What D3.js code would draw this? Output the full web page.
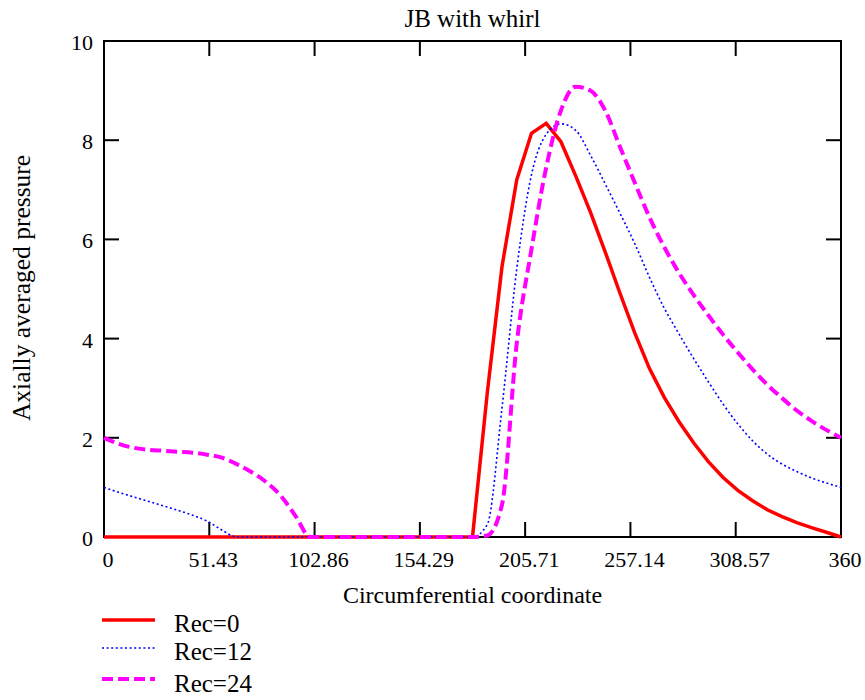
<!DOCTYPE html>
<html>
<head>
<meta charset="utf-8">
<script src="https://cdn.jsdelivr.net/npm/d3@7"></script>
<style>
    body { margin: 0; background: #fff; }
    text { font-family: "Liberation Serif", "Times New Roman", serif; fill: #000; }
</style>
</head>
<body>
<svg></svg>
<script>
// circumferential positions (degrees), one sample every 7.2
var xs = [0, 7.2, 14.4, 21.6, 28.8, 36, 43.2, 50.4, 57.6, 64.8,
    72, 79.2, 86.4, 93.6, 100.8, 108, 115.2, 122.4, 129.6, 136.8,
    144, 151.2, 158.4, 165.6, 172.8, 180, 187.2, 194.4, 201.6, 208.8,
    216, 223.2, 230.4, 237.6, 244.8, 252, 259.2, 266.4, 273.6, 280.8,
    288, 295.2, 302.4, 309.6, 316.8, 324, 331.2, 338.4, 345.6, 352.8,
    360];

var rec0 = [0, 0, 0, 0, 0, 0, 0, 0, 0, 0,
    0, 0, 0, 0, 0, 0, 0, 0, 0, 0,
    0, 0, 0, 0, 0, 0, 2.9, 5.45, 7.2, 8.14,
    8.34, 7.97, 7.28, 6.55, 5.75, 4.92, 4.12, 3.4, 2.82, 2.33,
    1.9, 1.52, 1.2, 0.94, 0.73, 0.55, 0.41, 0.29, 0.19, 0.095,
    0];

var rec12 = [1.0, 0.9, 0.81, 0.72, 0.63, 0.54, 0.44, 0.32, 0.14, 0,
    0, 0, 0, 0, 0, 0, 0, 0, 0, 0,
    0, 0, 0, 0, 0, 0, 0.25, 2.6, 5.4, 7.3,
    8.12, 8.33, 8.2, 7.7, 7.12, 6.53, 5.92, 5.24, 4.62, 4.1,
    3.6, 3.13, 2.68, 2.28, 1.94, 1.67, 1.47, 1.32, 1.19, 1.09,
    1.0];

var rec24 = [2.0, 1.88, 1.8, 1.76, 1.74, 1.72, 1.7, 1.66, 1.6, 1.47,
    1.31, 1.11, 0.83, 0.42, 0, 0, 0, 0, 0, 0,
    0, 0, 0, 0, 0, 0, 0.03, 0.65, 3.9, 5.8,
    7.45, 8.6, 9.08, 9.0, 8.6, 7.87, 7.15, 6.45, 5.85, 5.33,
    4.88, 4.47, 4.08, 3.72, 3.38, 3.07, 2.8, 2.55, 2.34, 2.16,
    2.0];

var xTicks = [0, 51.43, 102.86, 154.29, 205.71, 257.14, 308.57, 360];
var xTickLabels = ["0", "51.43", "102.86", "154.29", "205.71", "257.14", "308.57", "360"];
var yTicks = [0, 2, 4, 6, 8, 10];
var seriesNames = ["Rec=0", "Rec=12", "Rec=24"];

var w = 865;
var h = 700;
// plot box (window.top is reserved, so no bare "top")
var plotL = 104, plotR = 841, plotT = 41, plotB = 537;
var tickLen = 15;

var svg = d3.select("svg")
    .attr("width", w)
    .attr("height", h);

var x = d3.scaleLinear().domain([0, 360]).range([plotL, plotR]);
var y = d3.scaleLinear().domain([0, 10]).range([plotB, plotT]);

// frame
svg.append("rect")
    .attr("x", plotL)
    .attr("y", plotT)
    .attr("width", plotR - plotL)
    .attr("height", plotB - plotT)
    .attr("fill", "none")
    .attr("stroke", "#000")
    .attr("stroke-width", 2);

// inward ticks on all four sides
var frame = svg.append("g").attr("stroke", "#000").attr("stroke-width", 2);
xTicks.forEach(function (t) {
    frame.append("line").attr("x1", x(t)).attr("x2", x(t)).attr("y1", plotB).attr("y2", plotB - tickLen);
    frame.append("line").attr("x1", x(t)).attr("x2", x(t)).attr("y1", plotT).attr("y2", plotT + tickLen);
});
yTicks.forEach(function (t) {
    frame.append("line").attr("x1", plotL).attr("x2", plotL + tickLen).attr("y1", y(t)).attr("y2", y(t));
    frame.append("line").attr("x1", plotR).attr("x2", plotR - tickLen).attr("y1", y(t)).attr("y2", y(t));
});

svg.selectAll(".xlab")
    .data(xTicks)
    .enter()
    .append("text")
    .attr("class", "xlab")
    .attr("x", function (d) { return x(d) + 4; })
    .attr("y", 567)
    .attr("text-anchor", "middle")
    .attr("font-size", "22px")
    .text(function (d, i) { return xTickLabels[i]; });

svg.selectAll(".ylab")
    .data(yTicks)
    .enter()
    .append("text")
    .attr("class", "ylab")
    .attr("x", 93)
    .attr("y", function (d) { return y(d) + 9; })
    .attr("text-anchor", "end")
    .attr("font-size", "22px")
    .text(function (d) { return d; });

svg.append("text")
    .attr("x", (plotL + plotR) / 2)
    .attr("y", 27)
    .attr("text-anchor", "middle")
    .attr("font-size", "25px")
    .text("JB with whirl");

svg.append("text")
    .attr("x", (plotL + plotR) / 2)
    .attr("y", 603)
    .attr("text-anchor", "middle")
    .attr("font-size", "24px")
    .text("Circumferential coordinate");

svg.append("text")
    .attr("transform", "translate(30,288) rotate(-90)")
    .attr("text-anchor", "middle")
    .attr("font-size", "25.5px")
    .text("Axially averaged pressure");

// series
var styles = [
    { color: "#ff0000", width: 3.5, dash: null, curve: d3.curveLinear },
    { color: "#0000ff", width: 1.6, dash: "2,2.6", curve: d3.curveMonotoneX },
    { color: "#ff00ff", width: 4, dash: "11,5", curve: d3.curveMonotoneX }
];
var series = [rec0, rec12, rec24];

series.forEach(function (vals, k) {
    var line = d3.line()
        .x(function (d, i) { return x(xs[i]); })
        .y(function (d) { return y(d); })
        .curve(styles[k].curve);
    svg.append("path")
        .datum(vals)
        .attr("d", line)
        .attr("fill", "none")
        .attr("stroke", styles[k].color)
        .attr("stroke-width", styles[k].width)
        .attr("stroke-dasharray", styles[k].dash);
});

// legend
var legendY = [620, 648, 679];
var legendBase = [632, 660, 692];
seriesNames.forEach(function (name, k) {
    svg.append("line")
        .attr("x1", 102).attr("x2", 155)
        .attr("y1", legendY[k]).attr("y2", legendY[k])
        .attr("stroke", styles[k].color)
        .attr("stroke-width", styles[k].width)
        .attr("stroke-dasharray", styles[k].dash);
    svg.append("text")
        .attr("x", 174)
        .attr("y", legendBase[k])
        .attr("font-size", "25px")
        .text(name);
});
</script>
</body>
</html>
